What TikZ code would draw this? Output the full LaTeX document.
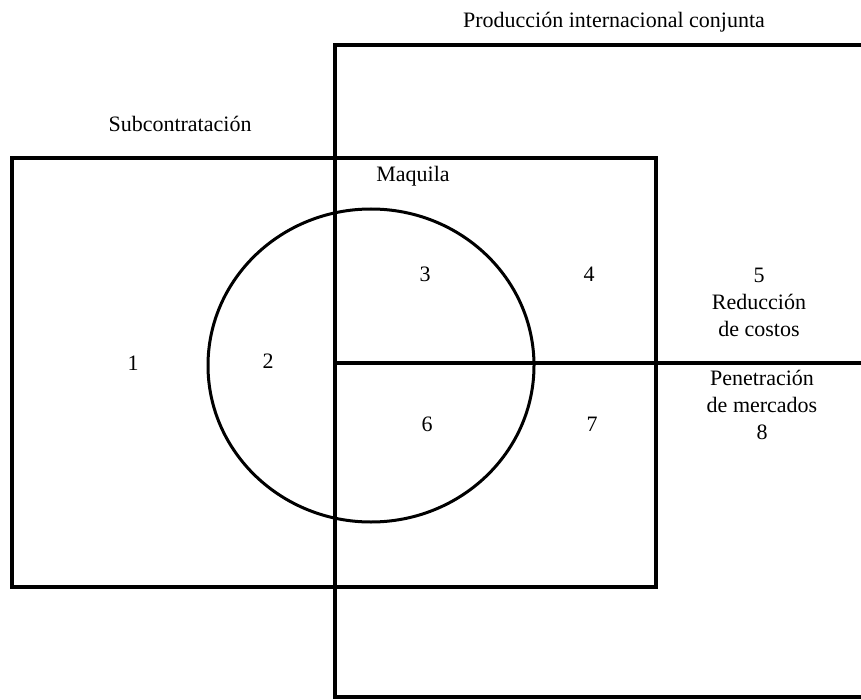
\documentclass[tikz,border=0pt]{standalone}
\usepackage{fontspec}
\setmainfont{Liberation Serif}
\begin{document}
\begin{tikzpicture}[x=1pt,y=-1pt,
  frame/.style={line width=3.4pt,line join=miter},
  lbl/.style={font=\fontsize{22}{27}\selectfont,inner sep=0pt,align=center}]
\useasboundingbox (0,0) rectangle (861,700);
% Producción internacional conjunta (open on the right)
\draw[frame] (861,45) -- (335,45) -- (335,697) -- (861,697);
% Subcontratación
\draw[frame] (12,158) rectangle (656,587);
% dividing line
\draw[frame] (335,363) -- (861,363);
% Maquila circle
\draw[frame,line width=3pt] (371,365.5) ellipse [x radius=163, y radius=156.5];
% labels
\node[lbl] (pic) at (614,22) {Producción internacional conjunta};
\node[lbl] (sub) at (180,124) {Subcontratación};
\node[lbl] (maq) at (413,176) {Maquila};
\node[lbl] (n1) at (133,363) {1};
\node[lbl] (n2) at (268,361) {2};
\node[lbl] (n3) at (425,274) {3};
\node[lbl] (n4) at (589,274) {4};
\node[lbl] (n5) at (759,302) {5\\Reducción\\de costos};
\node[lbl] (n6) at (427,424) {6};
\node[lbl] (n7) at (592,424) {7};
\node[lbl] (n8) at (762,405) {Penetración\\de mercados\\8};
\end{tikzpicture}
\end{document}
